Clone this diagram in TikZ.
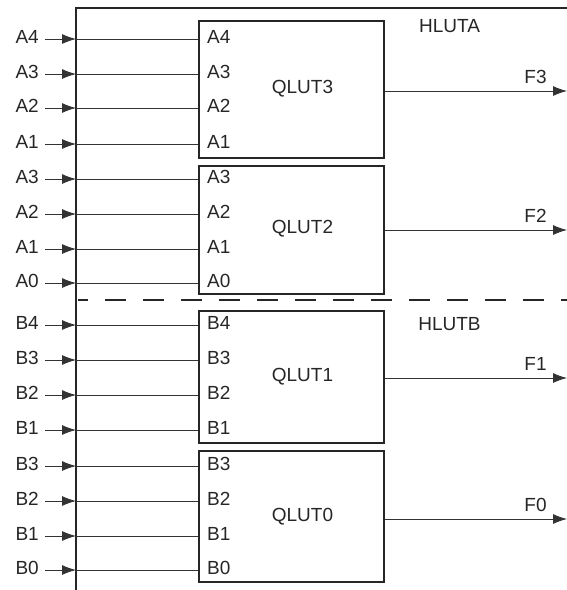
\documentclass[tikz,border=0pt]{standalone}
\usepackage{fontspec}
\setmainfont{Liberation Sans}
\usetikzlibrary{arrows.meta,calc}
\begin{document}
\begin{tikzpicture}[x=1pt,y=-1pt,font=\fontsize{19}{21}\selectfont]
\tikzset{
  frame/.style={line width=1.7pt,draw=black!85},
  lut/.style={draw=black!85,line width=1.9pt,inner sep=0pt,anchor=north west,minimum width=185pt},
  wire/.style={line width=0.8pt,draw=black!80},
  sig/.style={line width=0.8pt,draw=black!80,-{Latex[length=14pt,width=10pt]}},
  txt/.style={inner sep=0pt,text=black!85}
}
\useasboundingbox (0,0) rectangle (567,590);
% frame
\draw[frame] (76,590) -- (76,8) -- (567,8);
\draw[line width=2.2pt,draw=black!85,dash pattern=on 21pt off 17pt,dash phase=11pt] (78,300) -- (567,300);
% LUT boxes
\node[lut,minimum height=137pt] (q3) at (198,20) {};
\node[lut,minimum height=128pt] (q2) at (198,165) {};
\node[lut,minimum height=132pt] (q1) at (198,310) {};
\node[lut,minimum height=131pt] (q0) at (198,450) {};
\node[txt] (t3) at (302.5,89) {QLUT3};
\node[txt] (t2) at (302.5,229) {QLUT2};
\node[txt] (t1) at (302.5,377) {QLUT1};
\node[txt] (t0) at (302.5,517) {QLUT0};
\node[txt] (ha) at (449.5,26) {HLUTA};
\node[txt] (hb) at (449.5,324) {HLUTB};
% inputs
\foreach \n/\lab/\yy/\bx in {1/A4/39/q3,2/A3/74/q3,3/A2/108/q3,4/A1/144/q3,
  5/A3/179/q2,6/A2/214/q2,7/A1/249/q2,8/A0/283/q2,
  9/B4/325/q1,10/B3/360/q1,11/B2/395/q1,12/B1/430/q1,
  13/B3/466/q0,14/B2/501/q0,15/B1/536/q0,16/B0/570/q0}{
  \coordinate (j\n) at (76,\yy);
  \node[txt,anchor=east] (l\n) at (39,\yy-2) {\lab};
  \node[txt,anchor=west] (p\n) at (207,\yy-2) {\lab};
  \draw[sig] ($(l\n.east |- j\n)+(6,0)$) -- (j\n);
  \draw[wire] (j\n) -- (\bx.west |- j\n);
}
% outputs
\foreach \bx/\lab/\yy in {q3/F3/91,q2/F2/230,q1/F1/378,q0/F0/519}{
  \coordinate (o\lab) at (567,\yy);
  \draw[sig] (\bx.east |- o\lab) -- (o\lab);
  \node[txt] (n\lab) at (535.5,\yy-14) {\lab};
}
\end{tikzpicture}
\end{document}
